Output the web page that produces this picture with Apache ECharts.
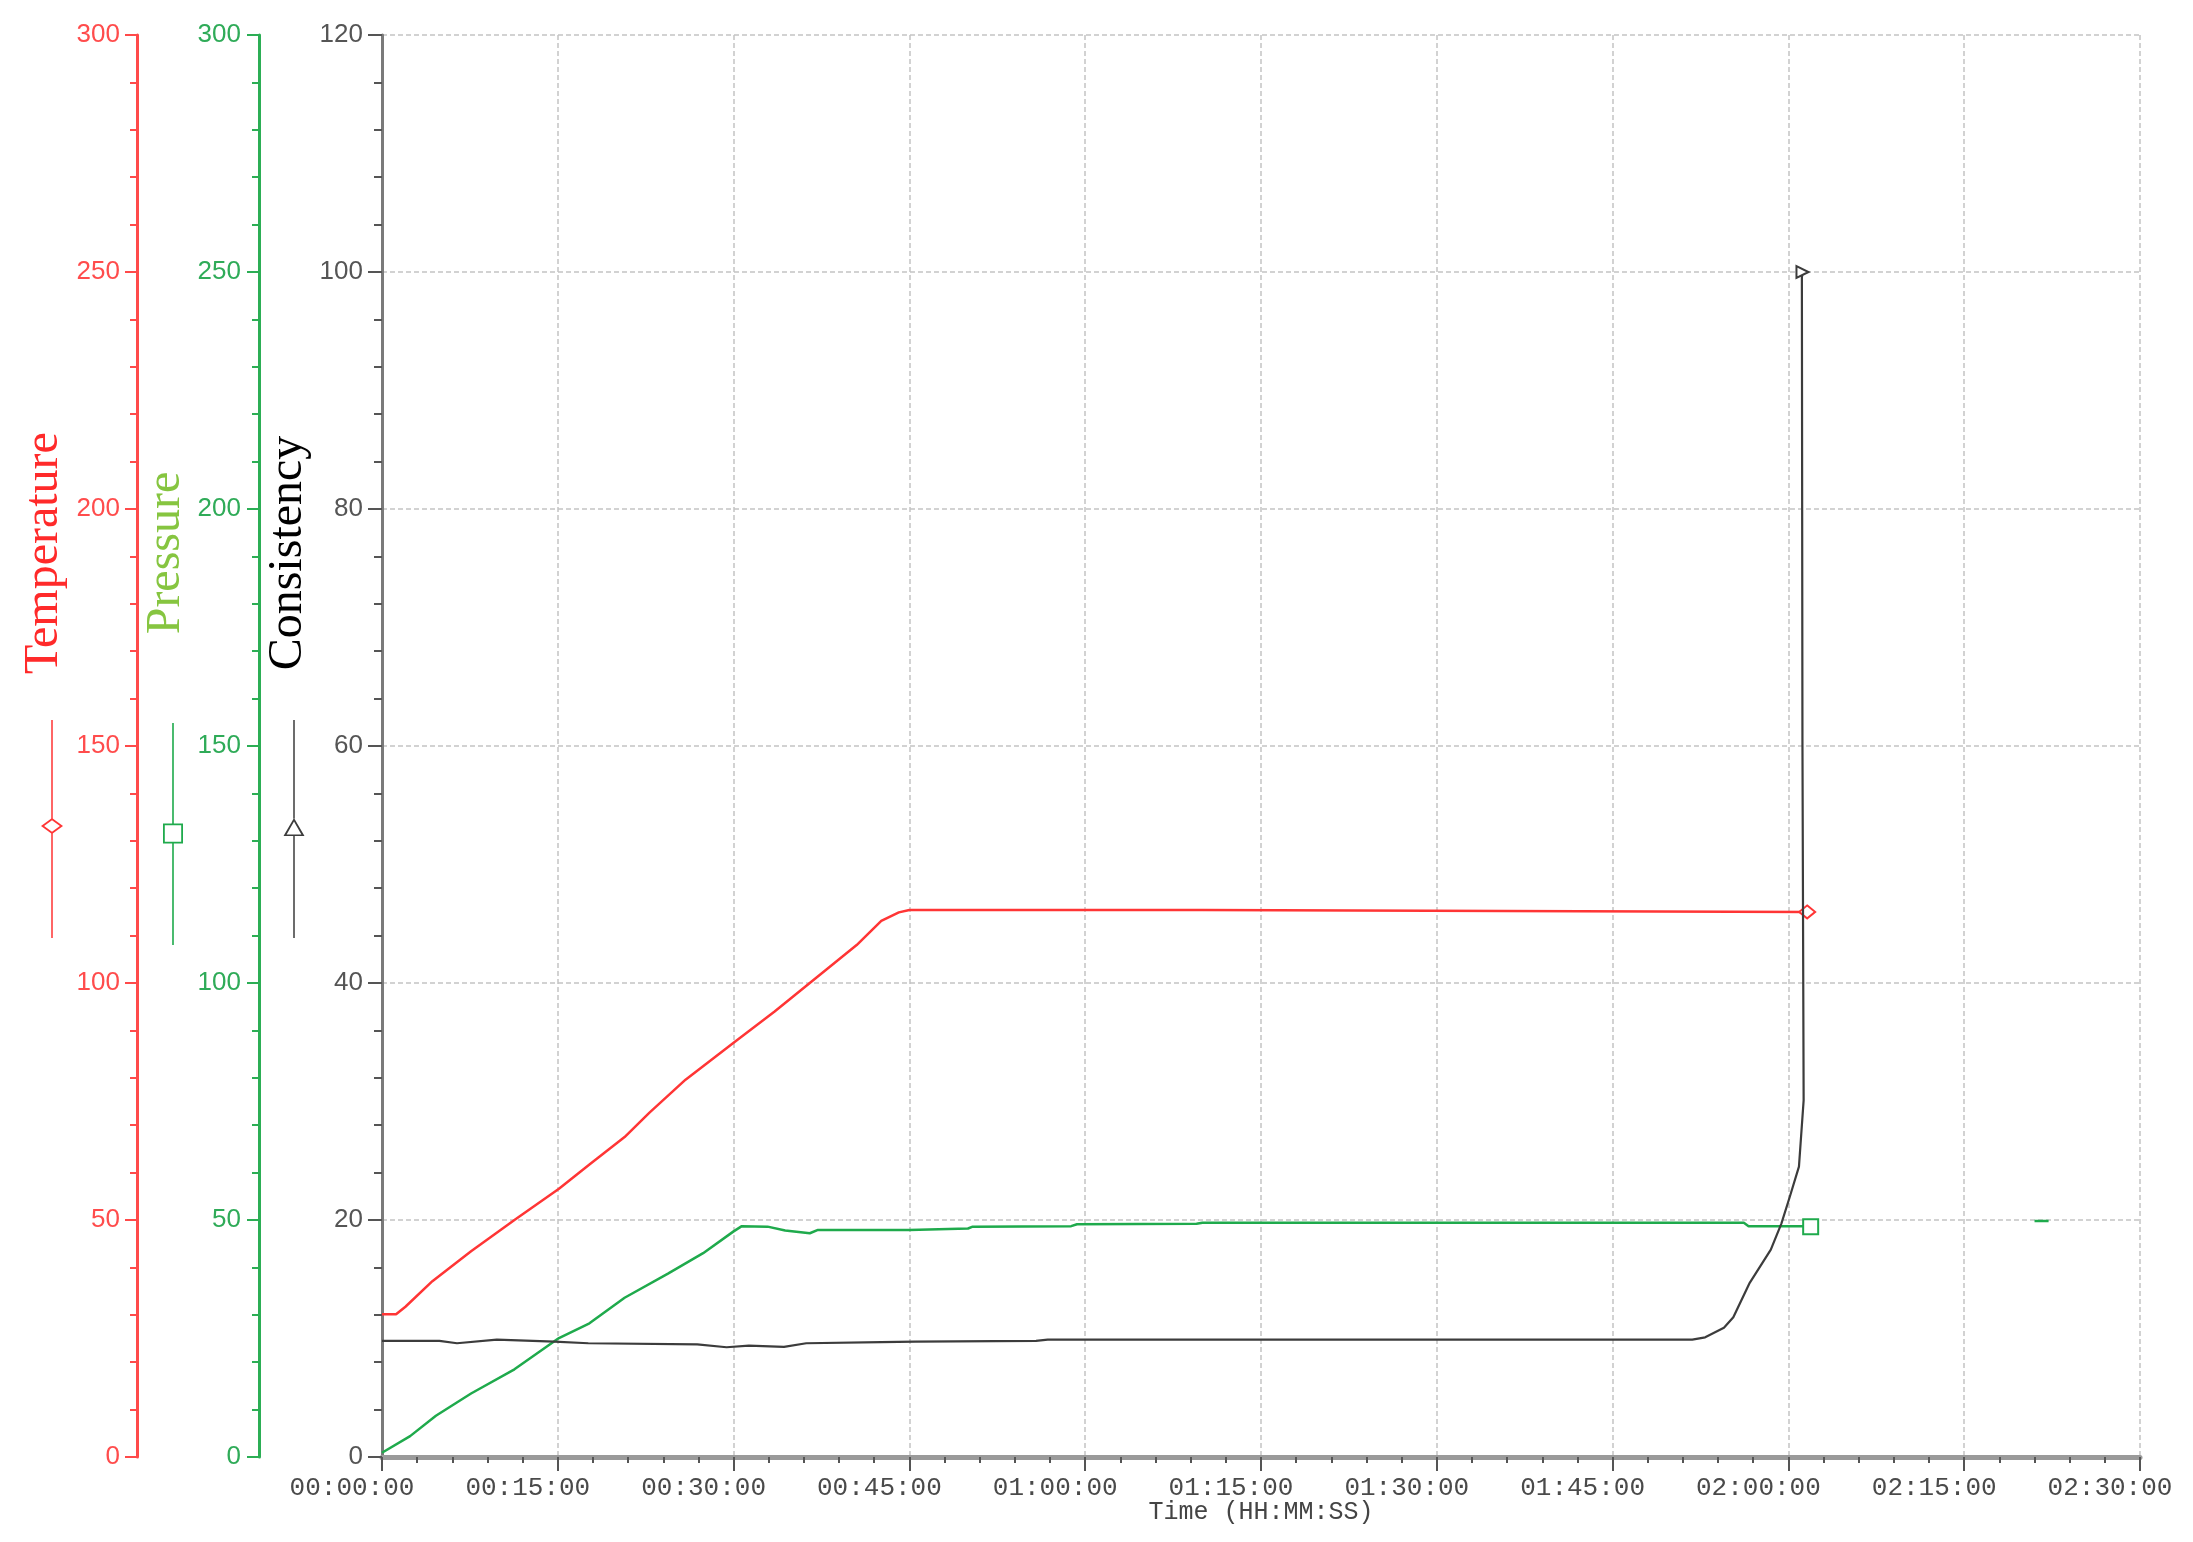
<!DOCTYPE html>
<html>
<head>
<meta charset="utf-8">
<script src="https://cdn.jsdelivr.net/npm/echarts@6/dist/echarts.min.js"></script>
<style>
html,body{margin:0;padding:0;background:#fff;}
#chart{width:2193px;height:1542px;}
</style>
</head>
<body>
<div id="chart"></div>
<script>
// ---- data (time in minutes) ----
const tempMinutes = [0, 1.2, 2, 4.3, 7.6, 11.3, 15.1, 17.7, 20.7, 22.8, 25.9, 30, 33.5, 36.5, 40.5, 42.6, 44.1, 45, 70, 70.1, 121.6];
const tempValues  = [30.1, 30.1, 31.7, 37.1, 43.4, 50, 56.6, 61.7, 67.5, 72.6, 79.6, 87.4, 94, 100, 108, 113.1, 114.9, 115.4, 115.4, 115, 115];

const pressMinutes = [0, 2.4, 4.6, 7.6, 11.3, 15.1, 17.7, 20.7, 24.4, 27.4, 30, 30.7, 32.9, 34.4, 36.5, 37.2, 45, 50, 50.4, 58.8, 59.3, 69.5, 70, 116.2, 116.6, 121.3, 121.9, 131, 141, 142.2];
const pressValues  = [0.9, 4.4, 8.7, 13.4, 18.5, 25.1, 28.2, 33.6, 38.7, 43, 47.6, 48.7, 48.6, 47.8, 47.2, 47.9, 47.9, 48.2, 48.6, 48.7, 49.1, 49.2, 49.4, 49.4, 48.7, 48.7, 48.6, null, 49.8, 49.8];

const consMinutes = [0, 4.9, 6.4, 9.8, 14.7, 17.6, 26.9, 29.4, 31.3, 34.3, 36.2, 42.6, 45.5, 55.8, 56.8, 70.5, 111.8, 112.9, 114.5, 115.3, 116.7, 118.5, 119.4, 120.1, 120.9, 121.1, 121.3, 121.2, 121.15, 121.2];
const consValues  = [9.8, 9.8, 9.6, 9.9, 9.74, 9.6, 9.5, 9.26, 9.4, 9.3, 9.6, 9.7, 9.74, 9.8, 9.9, 9.9, 9.9, 10.1, 10.9, 11.8, 14.7, 17.5, 19.7, 21.9, 24.5, 27.3, 30.1, 60, 99.5, 100];

// marker positions (index of point carrying the series symbol)
const tempMarkerIndex = 20;
const pressMarkerIndex = 26;
const consMarkerIndex = 29;

// axis settings
const timeAxis = {min: 0, max: 150, step: 15};
const tempAxis = {min: 0, max: 300, step: 50};
const pressAxis = {min: 0, max: 300, step: 50};
const consAxis = {min: 0, max: 120, step: 20};

const RED = '#ff3535', RED_AX = '#ff4a4a';
const GREEN = '#1faa4c', GREEN_AX = '#2cae55';
const DARK = '#3c3c3c';

function pad(n){ return (n < 10 ? '0' : '') + n; }
function fmtTime(m){
  const h = Math.floor(m / 60), mm = Math.round(m % 60);
  return pad(h) + ':' + pad(mm) + ':00';
}

function buildData(xs, ys, markerIdx, marker){
  return xs.map((x, i) => {
    const y = ys[i] == null ? '-' : ys[i];
    if (i === markerIdx) return Object.assign({value: [x, y]}, marker);
    return [x, y];
  });
}

const tempData = buildData(tempMinutes, tempValues, tempMarkerIndex, {
  symbol: 'emptyDiamond', symbolSize: [16, 13],
  itemStyle: {color: RED, borderColor: RED, borderWidth: 1.6}
});
const pressData = buildData(pressMinutes, pressValues, pressMarkerIndex, {
  symbol: 'emptyRect', symbolSize: 15,
  itemStyle: {color: GREEN, borderColor: GREEN, borderWidth: 1.8}
});
const consData = buildData(consMinutes, consValues, consMarkerIndex, {
  symbol: 'emptyTriangle', symbolSize: 12, symbolRotate: -90,
  itemStyle: {color: DARK, borderColor: DARK, borderWidth: 1.6}
});

// legend glyphs: vertical line with hollow marker in the middle
const iconTemp = 'path://M10.25 0 L11.75 0 L11.75 98.5 L10.25 98.5 Z ' +
  'M11 98 L22 106 L11 114 L0 106 Z M11 100.3 L3.1 106 L11 111.7 L18.9 106 Z ' +
  'M10.25 113.5 L11.75 113.5 L11.75 218 L10.25 218 Z';
const iconPress = 'path://M10.2 0 L11.8 0 L11.8 100.5 L10.2 100.5 Z ' +
  'M1 100.5 L21 100.5 L21 120.5 L1 120.5 Z M2.8 102.3 L2.8 118.7 L19.2 118.7 L19.2 102.3 Z ' +
  'M10.2 120.5 L11.8 120.5 L11.8 222 L10.2 222 Z';
const iconCons = 'path://M10.25 0 L11.75 0 L11.75 98.5 L10.25 98.5 Z ' +
  'M11 98 L21.5 116 L0.5 116 Z M11 101.6 L3.6 114.4 L18.4 114.4 Z ' +
  'M10.25 116 L11.75 116 L11.75 218 L10.25 218 Z';

function legendFor(name, icon, left, top, w, h){
  return {
    data: [name], left: left, top: top, padding: 0, orient: 'vertical',
    itemWidth: w, itemHeight: h, icon: icon, selectedMode: false,
    formatter: () => '', itemGap: 0,
    itemStyle: {borderWidth: 0},
    textStyle: {fontSize: 1}
  };
}

function sideAxis(opts){
  return {
    type: 'value', position: 'left', offset: opts.offset,
    min: opts.ax.min, max: opts.ax.max, interval: opts.ax.step,
    name: opts.name, nameLocation: 'middle', nameRotate: 90, nameGap: opts.nameGap,
    nameMoveOverlap: false,
    nameTextStyle: {fontFamily: 'Liberation Serif', fontSize: 48, lineHeight: 48,
      color: opts.nameColor, padding: [0, 0, 0, 386]},
    axisLine: {show: true, lineStyle: {color: opts.lineColor, width: 3}},
    axisTick: {show: true, length: opts.tickLen, lineStyle: {color: opts.tickColor, width: 2}},
    minorTick: {show: true, splitNumber: 5, length: opts.minorLen, lineStyle: {color: opts.tickColor, width: 2}},
    axisLabel: {color: opts.labelColor, fontFamily: 'Liberation Sans', fontSize: 26, margin: opts.margin},
    splitLine: opts.split ? {show: true, lineStyle: {color: '#c4c4c4', width: 1.5, type: [5, 3]}} : {show: false}
  };
}

const option = {
  animation: false,
  backgroundColor: '#ffffff',
  grid: {left: 382, right: 53, top: 35, bottom: 85, containLabel: false, outerBoundsMode: 'none'},
  legend: [
    legendFor('Temperature', iconTemp, 41, 720, 22, 218),
    legendFor('Pressure', iconPress, 162, 723, 22, 222),
    legendFor('Consistency', iconCons, 283, 720, 22, 218)
  ],
  xAxis: {
    type: 'value', min: timeAxis.min, max: timeAxis.max, interval: timeAxis.step,
    name: 'Time (HH:MM:SS)', nameLocation: 'middle', nameGap: 43, nameMoveOverlap: false,
    nameTextStyle: {fontFamily: 'Liberation Mono', fontSize: 25, color: '#444'},
    axisLine: {show: true, onZero: false, lineStyle: {color: '#9a9a9a', width: 5}},
    axisTick: {show: true, length: 14, lineStyle: {color: '#555', width: 2}},
    minorTick: {show: true, splitNumber: 5, length: 6, lineStyle: {color: '#555', width: 2}},
    axisLabel: {formatter: fmtTime, color: '#4a4a4a', fontFamily: 'Liberation Mono', fontSize: 26,
      margin: 18, padding: [0, 60, 0, 0]},
    splitLine: {show: true, lineStyle: {color: '#c4c4c4', width: 1.5, type: [5, 3]}}
  },
  yAxis: [
    sideAxis({ax: consAxis, offset: 0, name: 'Consistency', nameGap: 70, nameColor: '#000',
      lineColor: '#7a7a7a', tickColor: '#555', labelColor: '#555', tickLen: 14, minorLen: 8, margin: 19, split: true}),
    sideAxis({ax: pressAxis, offset: 123, name: 'Pressure', nameGap: 69, nameColor: '#86c540',
      lineColor: GREEN_AX, tickColor: GREEN_AX, labelColor: '#2fab58', tickLen: 12, minorLen: 7, margin: 18, split: false}),
    sideAxis({ax: tempAxis, offset: 245, name: 'Temperature', nameGap: 69, nameColor: '#ff2a2a',
      lineColor: RED_AX, tickColor: RED_AX, labelColor: '#ff4c4c', tickLen: 12, minorLen: 7, margin: 17, split: false})
  ],
  series: [
    {name: 'Temperature', type: 'line', yAxisIndex: 2, data: tempData, symbol: 'none', showSymbol: true,
      color: RED, lineStyle: {color: RED, width: 2.5}, itemStyle: {color: RED, borderWidth: 0}, connectNulls: false, z: 3},
    {name: 'Pressure', type: 'line', yAxisIndex: 1, data: pressData, symbol: 'none', showSymbol: true,
      color: GREEN, lineStyle: {color: GREEN, width: 2.5}, itemStyle: {color: GREEN, borderWidth: 0}, connectNulls: false, z: 3},
    {name: 'Consistency', type: 'line', yAxisIndex: 0, data: consData, symbol: 'none', showSymbol: true,
      color: DARK, lineStyle: {color: DARK, width: 2.2}, itemStyle: {color: DARK, borderWidth: 0}, connectNulls: false, z: 4}
  ]
};

const chart = echarts.init(document.getElementById('chart'), null, {renderer: 'canvas'});
chart.setOption(option);
</script>
</body>
</html>
